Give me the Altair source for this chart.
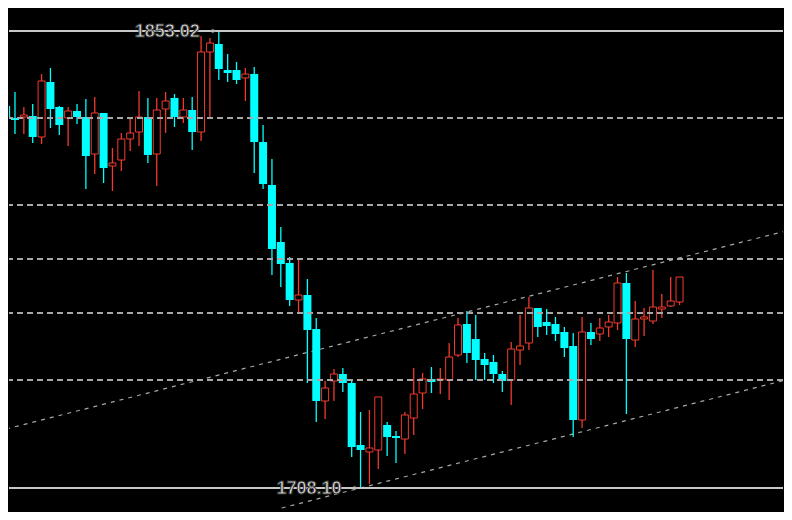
import altair as alt
import pandas as pd

# ---- candle data ----
opens = [1829.24, 1825.43, 1825.75, 1826.07, 1819.41, 1836.85, 1828.92, 1825.43, 1827.65, 1825.75,
         1814.01, 1827.02, 1810.21, 1812.11, 1818.77, 1820.99, 1825.75, 1814.01, 1828.29, 1831.77,
         1825.75, 1827.97, 1820.99, 1846.36, 1848.90, 1840.65, 1840.65, 1838.12, 1839.38, 1817.82,
         1804.19, 1786.11, 1779.45, 1767.72, 1769.30, 1758.52, 1735.69, 1742.03, 1744.25, 1741.40,
         1721.74, 1719.52, 1720.15, 1728.08, 1724.59, 1723.64, 1730.30, 1738.23, 1742.67, 1742.35,
         1742.35, 1750.28, 1760.11, 1755.35, 1749.01, 1748.06, 1744.25, 1742.35, 1751.86, 1754.08,
         1765.18, 1760.74, 1760.11, 1757.57, 1753.13, 1729.66, 1757.57, 1756.94, 1759.16, 1760.42,
         1773.11, 1755.03, 1761.69, 1761.06, 1764.86, 1765.81, 1767.08]
highs = [1832.09, 1833.68, 1828.92, 1829.87, 1839.38, 1841.29, 1829.24, 1828.92, 1829.87, 1831.46,
         1832.09, 1827.02, 1815.92, 1820.67, 1825.43, 1833.99, 1831.77, 1831.77, 1833.68, 1833.04,
         1831.77, 1832.09, 1851.43, 1850.80, 1853.02, 1845.73, 1843.19, 1841.29, 1841.60, 1823.21,
         1812.43, 1790.87, 1781.35, 1780.40, 1774.38, 1762.01, 1742.03, 1745.84, 1746.15, 1742.67,
         1732.20, 1732.84, 1736.96, 1729.03, 1726.18, 1732.20, 1746.15, 1744.57, 1746.47, 1746.15,
         1754.08, 1762.01, 1764.23, 1762.96, 1750.91, 1750.28, 1745.20, 1754.40, 1762.96, 1768.67,
         1765.18, 1764.86, 1762.33, 1759.16, 1757.25, 1762.33, 1760.42, 1762.01, 1762.96, 1775.01,
         1776.28, 1767.40, 1765.18, 1777.23, 1769.62, 1775.01, 1775.01]
lows = [1823.85, 1820.36, 1820.36, 1817.50, 1817.19, 1822.26, 1820.04, 1816.55, 1823.53, 1802.92,
        1807.67, 1804.82, 1802.28, 1808.62, 1814.97, 1816.55, 1811.16, 1803.87, 1820.67, 1822.58,
        1823.85, 1815.28, 1818.14, 1825.43, 1837.48, 1836.85, 1836.21, 1830.82, 1807.99, 1802.92,
        1775.64, 1771.84, 1765.81, 1763.91, 1741.40, 1729.03, 1729.98, 1735.69, 1738.54, 1717.93,
        1708.10, 1709.37, 1714.13, 1718.25, 1716.03, 1718.88, 1724.91, 1733.15, 1738.23, 1737.91,
        1736.01, 1749.64, 1747.74, 1742.35, 1742.35, 1741.40, 1738.54, 1734.42, 1747.11, 1751.86,
        1755.98, 1756.62, 1754.72, 1749.64, 1724.27, 1727.13, 1753.45, 1754.72, 1755.98, 1758.20,
        1731.57, 1752.81, 1756.30, 1760.11, 1762.01, 1765.50, 1766.13]
closes = [1825.75, 1824.80, 1826.38, 1819.41, 1837.16, 1828.29, 1823.21, 1827.65, 1825.75, 1813.38,
          1827.02, 1809.58, 1811.16, 1818.77, 1820.67, 1825.75, 1813.70, 1827.97, 1830.82, 1825.75,
          1827.97, 1820.99, 1846.36, 1849.21, 1840.97, 1839.70, 1837.48, 1839.38, 1817.82, 1804.50,
          1783.89, 1779.13, 1767.72, 1769.30, 1758.20, 1735.69, 1739.81, 1744.25, 1741.40, 1721.10,
          1720.15, 1720.79, 1736.96, 1724.27, 1723.96, 1731.25, 1737.91, 1742.67, 1741.71, 1742.67,
          1749.64, 1759.79, 1750.91, 1748.69, 1747.11, 1744.25, 1742.03, 1752.18, 1753.13, 1765.18,
          1759.16, 1759.47, 1756.94, 1752.50, 1729.66, 1757.57, 1755.35, 1758.84, 1760.74, 1773.11,
          1755.35, 1761.69, 1762.33, 1765.50, 1765.50, 1767.40, 1775.01]

# horizontal dashed levels
levels = [1825.43, 1797.84, 1780.72, 1763.59, 1742.35]

# extreme price marks
extreme_labels = ["1853.02", "1708.10"]
extreme_prices = [1853.02, 1708.10]
extreme_index = [24, 40]

# channel trend lines (index, price) endpoints
upper_x = [0.0, 88.0]
upper_y = [1726.81, 1789.60]
lower_x = [31.1, 88.0]
lower_y = [1701.76, 1742.35]

RED = "#f03a2e"
CYAN = "#00ffff"

df = pd.DataFrame({
    "i": list(range(len(opens))),
    "open": opens, "high": highs, "low": lows, "close": closes,
})
df["dir"] = ["up" if c >= o else "down" for o, c in zip(opens, closes)]

xs = alt.Scale(domain=[8 / 9, 784 / 9], nice=False, zero=False)
ys = alt.Scale(domain=[1700.49, 1860.31], nice=False, zero=False)

X = alt.X("i:Q", scale=xs, axis=None)

base = alt.Chart(df)

wicks = base.mark_rule(strokeWidth=1.3, clip=True).encode(
    x=X,
    y=alt.Y("low:Q", scale=ys, axis=None),
    y2="high:Q",
    color=alt.Color("dir:N", scale=alt.Scale(domain=["up", "down"], range=[RED, CYAN]), legend=None),
)

up_bodies = base.transform_filter(alt.datum.dir == "up").mark_bar(
    size=7, fill="black", stroke=RED, strokeWidth=1, clip=True
).encode(x=X, y=alt.Y("open:Q", scale=ys, axis=None), y2="close:Q")

down_bodies = base.transform_filter(alt.datum.dir == "down").mark_bar(
    size=8, color=CYAN, clip=True
).encode(x=X, y=alt.Y("open:Q", scale=ys, axis=None), y2="close:Q")

chan_df = pd.DataFrame({
    "x": upper_x + lower_x,
    "y": upper_y + lower_y,
    "line": ["upper", "upper", "lower", "lower"],
})
channels = alt.Chart(chan_df).mark_line(
    strokeDash=[4, 5], strokeWidth=1.2, color="#a8a8a8", clip=True
).encode(
    x=alt.X("x:Q", scale=xs, axis=None),
    y=alt.Y("y:Q", scale=ys, axis=None),
    detail="line:N",
)

lev_df = pd.DataFrame({"level": levels})
level_rules = alt.Chart(lev_df).mark_rule(
    strokeDash=[6, 4], strokeWidth=2, color="#a8a8a8"
).encode(y=alt.Y("level:Q", scale=ys, axis=None))

ext_df = pd.DataFrame({"label": extreme_labels, "price": extreme_prices, "i": extreme_index})
ext_rules = alt.Chart(ext_df).mark_rule(strokeWidth=2, color="#c8c8c8").encode(
    y=alt.Y("price:Q", scale=ys, axis=None)
)
ext_text = alt.Chart(ext_df).mark_text(
    align="right", baseline="middle", dx=-19, dy=1,
    font="Liberation Sans", fontSize=18, fontWeight="bold",
    color="#e2e2e2", stroke="#303030", strokeWidth=1,
).encode(x=X, y=alt.Y("price:Q", scale=ys, axis=None), text="label:N")
ext_marker = alt.Chart(ext_df).transform_calculate(mi="datum.i - 0.55").mark_point(
    shape="triangle-right", size=16, filled=False, color="#b0b0b0", strokeWidth=1
).encode(x=alt.X("mi:Q", scale=xs, axis=None), y=alt.Y("price:Q", scale=ys, axis=None))

chart = alt.layer(
    channels, wicks, up_bodies, down_bodies, level_rules, ext_rules, ext_text, ext_marker
).properties(
    width=776, height=504, padding=0,
    autosize=alt.AutoSizeParams(type="fit", contains="padding"),
    background="black",
).configure_view(stroke=None, fill="black")

chart.save("out.html", embed_options={"renderer": "svg", "actions": False})
